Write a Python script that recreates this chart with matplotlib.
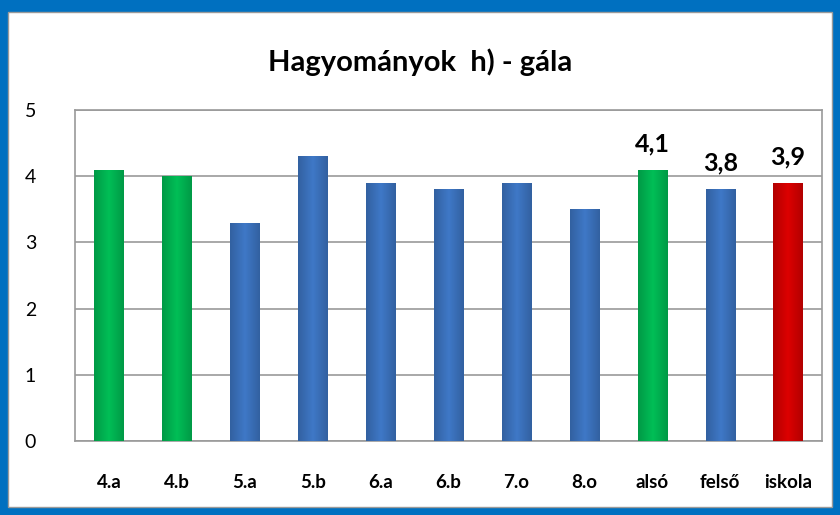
import matplotlib.pyplot as plt
import numpy as np
from matplotlib.patches import Rectangle
from matplotlib.colors import to_rgb

categories = ["4.a", "4.b", "5.a", "5.b", "6.a", "6.b", "7.o", "8.o", "alsó", "felső", "iskola"]
values = [4.1, 4.0, 3.3, 4.3, 3.9, 3.8, 3.9, 3.5, 4.1, 3.8, 3.9]
colors = ["#00B050", "#00B050", "#3A6FB8", "#3A6FB8", "#3A6FB8", "#3A6FB8",
          "#3A6FB8", "#3A6FB8", "#00B050", "#3A6FB8", "#CC0000"]
labels = {8: "4,1", 9: "3,8", 10: "3,9"}

plt.rcParams['font.family'] = ['Lato', 'DejaVu Sans']

fig = plt.figure(figsize=(8.4, 5.15), dpi=100)
fig.patch.set_facecolor("#0070C0")
# white chart area with thin gray rim
fig.patches.append(Rectangle((8 / 840, 8 / 515), 824 / 840, 495 / 515,
                             transform=fig.transFigure, facecolor="white",
                             edgecolor="#9A9A9A", lw=1, zorder=-5))

ax = fig.add_axes([75 / 840, 74 / 515, 747 / 840, 331 / 515])
x = np.arange(len(categories))
bars = ax.bar(x, values, width=0.43, color=colors, zorder=3, edgecolor="none")

# cylinder-like shading on each bar
grad = np.concatenate([np.linspace(0.45, 1.0, 50), np.linspace(1.0, 0.45, 50)])
for b, c in zip(bars, colors):
    rgb = np.array(to_rgb(c))
    img = np.clip(rgb[None, None, :] * (0.7 + 0.38 * grad[None, :, None]), 0, 1)
    x0, y0 = b.get_x(), b.get_y()
    im = ax.imshow(img, extent=(x0, x0 + b.get_width(), y0, y0 + b.get_height()),
                   aspect="auto", zorder=4, origin="lower")
    im.set_clip_path(b)

for i, t in labels.items():
    ax.text(x[i], values[i] + 0.22, t, ha="center", va="bottom",
            fontsize=18, fontweight="bold", zorder=5)

ax.set_xlim(-0.5, len(categories) - 0.5)
ax.set_ylim(0, 5)
ax.set_yticks(range(6))
ax.set_xticks(x)
ax.set_xticklabels(categories, fontsize=13.5, fontweight="bold")
ax.tick_params(axis="y", labelsize=14, length=0, pad=28)
ax.tick_params(axis="x", length=0, pad=24)
ax.grid(axis="y", color="#9A9A9A", lw=1.2, zorder=1)
for s in ax.spines.values():
    s.set_color("#9A9A9A")
    s.set_linewidth(1.2)

fig.text(0.5, 0.88, "Hagyományok  h) - gála", ha="center", va="center",
         fontsize=21, fontweight="bold")

fig.savefig("out.png", dpi=100, facecolor=fig.get_facecolor())
